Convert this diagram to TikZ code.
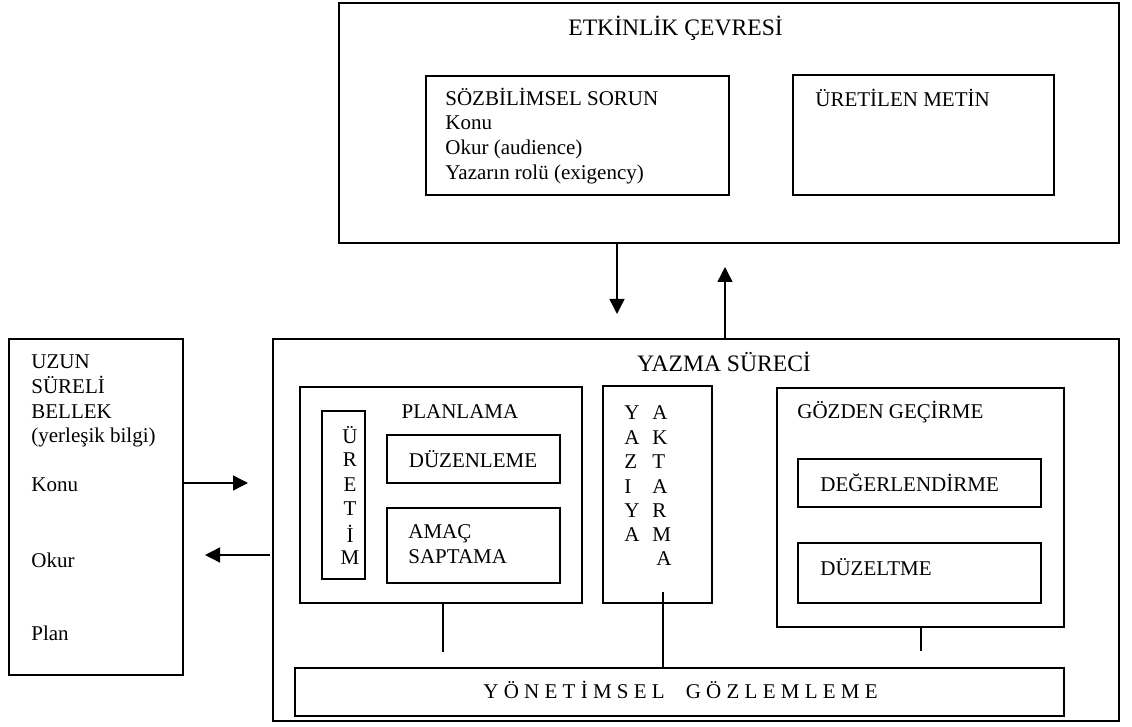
\documentclass[tikz,border=0pt]{standalone}
\usepackage{fontspec}
\setmainfont{Liberation Serif}
\usetikzlibrary{arrows.meta,fit}

\begin{document}
\begin{tikzpicture}[
  x=0.5pt,
  y=-0.5pt,
  every node/.style={
    font=\fontsize{10.5}{12.4}\selectfont,
    inner sep=0pt,
  },
  box/.style={
    draw=black,
    line width=0.7pt,
  },
  title/.style={
    font=\fontsize{11.8}{14}\selectfont,
  },
  flow/.style={
    line width=0.7pt,
    -{Triangle[length=7.5pt,width=7.5pt]},
  },
  link/.style={
    line width=0.6pt,
  }
]
\useasboundingbox (0,0) rectangle (1132,727);

\node[box, fit={(339,3) (1119,243)}] (etkinlik) {};
\node[title, anchor=west] (etkinlikTitle) at (568,28) {ETKİNLİK ÇEVRESİ};
\node[box, fit={(426,76) (729,195)}] (sorun) {};
\node[anchor=west, align=left] (sorunText) at (445,136)
  {SÖZBİLİMSEL SORUN\\Konu\\Okur (audience)\\Yazarın rolü (exigency)};
\node[box, fit={(793,75) (1054,195)}] (metin) {};
\node[anchor=west] (metinText) at (815,98) {ÜRETİLEN METİN};

\node[box, fit={(9,339) (183,675)}] (bellek) {};
\node[anchor=west, align=left] (bellekTitle) at (31,401)
  {UZUN\\SÜRELİ\\BELLEK\\(yerleşik bilgi)};
\node[anchor=west] (bellekKonu) at (31,485) {Konu};
\node[anchor=west] (bellekOkur) at (31,560) {Okur};
\node[anchor=west] (bellekPlan) at (31,633) {Plan};

\node[box, fit={(273,339) (1119,721)}] (yazma) {};
\node[title] (yazmaTitle) at (724,362) {YAZMA SÜRECİ};

\node[box, fit={(300,387) (582,603)}] (planlama) {};
\node (planlamaTitle) at (460,412) {PLANLAMA};
\node[box, fit={(322,411) (365,579)}] (uretim) {};
\foreach \ch [count=\i from 0] in {Ü,R,E,T,İ,M}
  \node (uretim\i) at (350,435+24.6*\i) {\ch};
\node[box, fit={(387,435) (560,483)}] (duzenleme) {};
\node (duzenlemeText) at (473,459) {DÜZENLEME};
\node[box, fit={(387,508) (560,583)}] (amac) {};
\node[anchor=west, align=left] (amacText) at (408,544) {AMAÇ\\SAPTAMA};

\node[box, fit={(603,386) (712,603)}] (aktarma) {};
\foreach \l/\r [count=\i from 0] in {Y/A,A/K,Z/T,I/A,Y/R,A/M} {
  \node[anchor=west] (yaziya\i) at (624,413+24.4*\i) {\l};
  \node[anchor=west] (aktar\i) at (652,413+24.4*\i) {\r};
}
\node[anchor=west] (aktar6) at (656,559) {A};

\node[box, fit={(777,388) (1064,627)}] (gozden) {};
\node[anchor=west] (gozdenTitle) at (797,412) {GÖZDEN GEÇİRME};
\node[box, fit={(798,459) (1041,507)}] (degerlendirme) {};
\node[anchor=west] (degerlendirmeText) at (820,483) {DEĞERLENDİRME};
\node[box, fit={(798,543) (1041,603)}] (duzeltme) {};
\node[anchor=west] (duzeltmeText) at (820,567) {DÜZELTME};

\node[box, fit={(295,668) (1064,716)}] (gozlem) {};
\node[anchor=west] (gozlemText) at (483,690)
  {Y Ö N E T İ M S E L\quad G Ö Z L E M L E M E};

\coordinate (downEnd) at (617,314);
\coordinate (upEnd) at (725,267);
\coordinate (konuEnd) at (248,483);
\coordinate (okurStart) at (270,555);
\coordinate (okurEnd) at (205,555);
\coordinate (planFoot) at (443,652);
\coordinate (aktarmaTop) at (663,592);
\coordinate (gozdenFoot) at (921,651);

\draw[flow] (downEnd |- etkinlik.south) -- (downEnd);
\draw[flow] (upEnd |- yazma.north) -- (upEnd);
\draw[flow] (konuEnd -| bellek.east) -- (konuEnd);
\draw[flow] (okurStart) -- (okurEnd);
\draw[link] (planFoot |- planlama.south) -- (planFoot);
\draw[link] (aktarmaTop) -- (aktarmaTop |- gozlem.north);
\draw[link] (gozdenFoot |- gozden.south) -- (gozdenFoot);
\end{tikzpicture}
\end{document}
